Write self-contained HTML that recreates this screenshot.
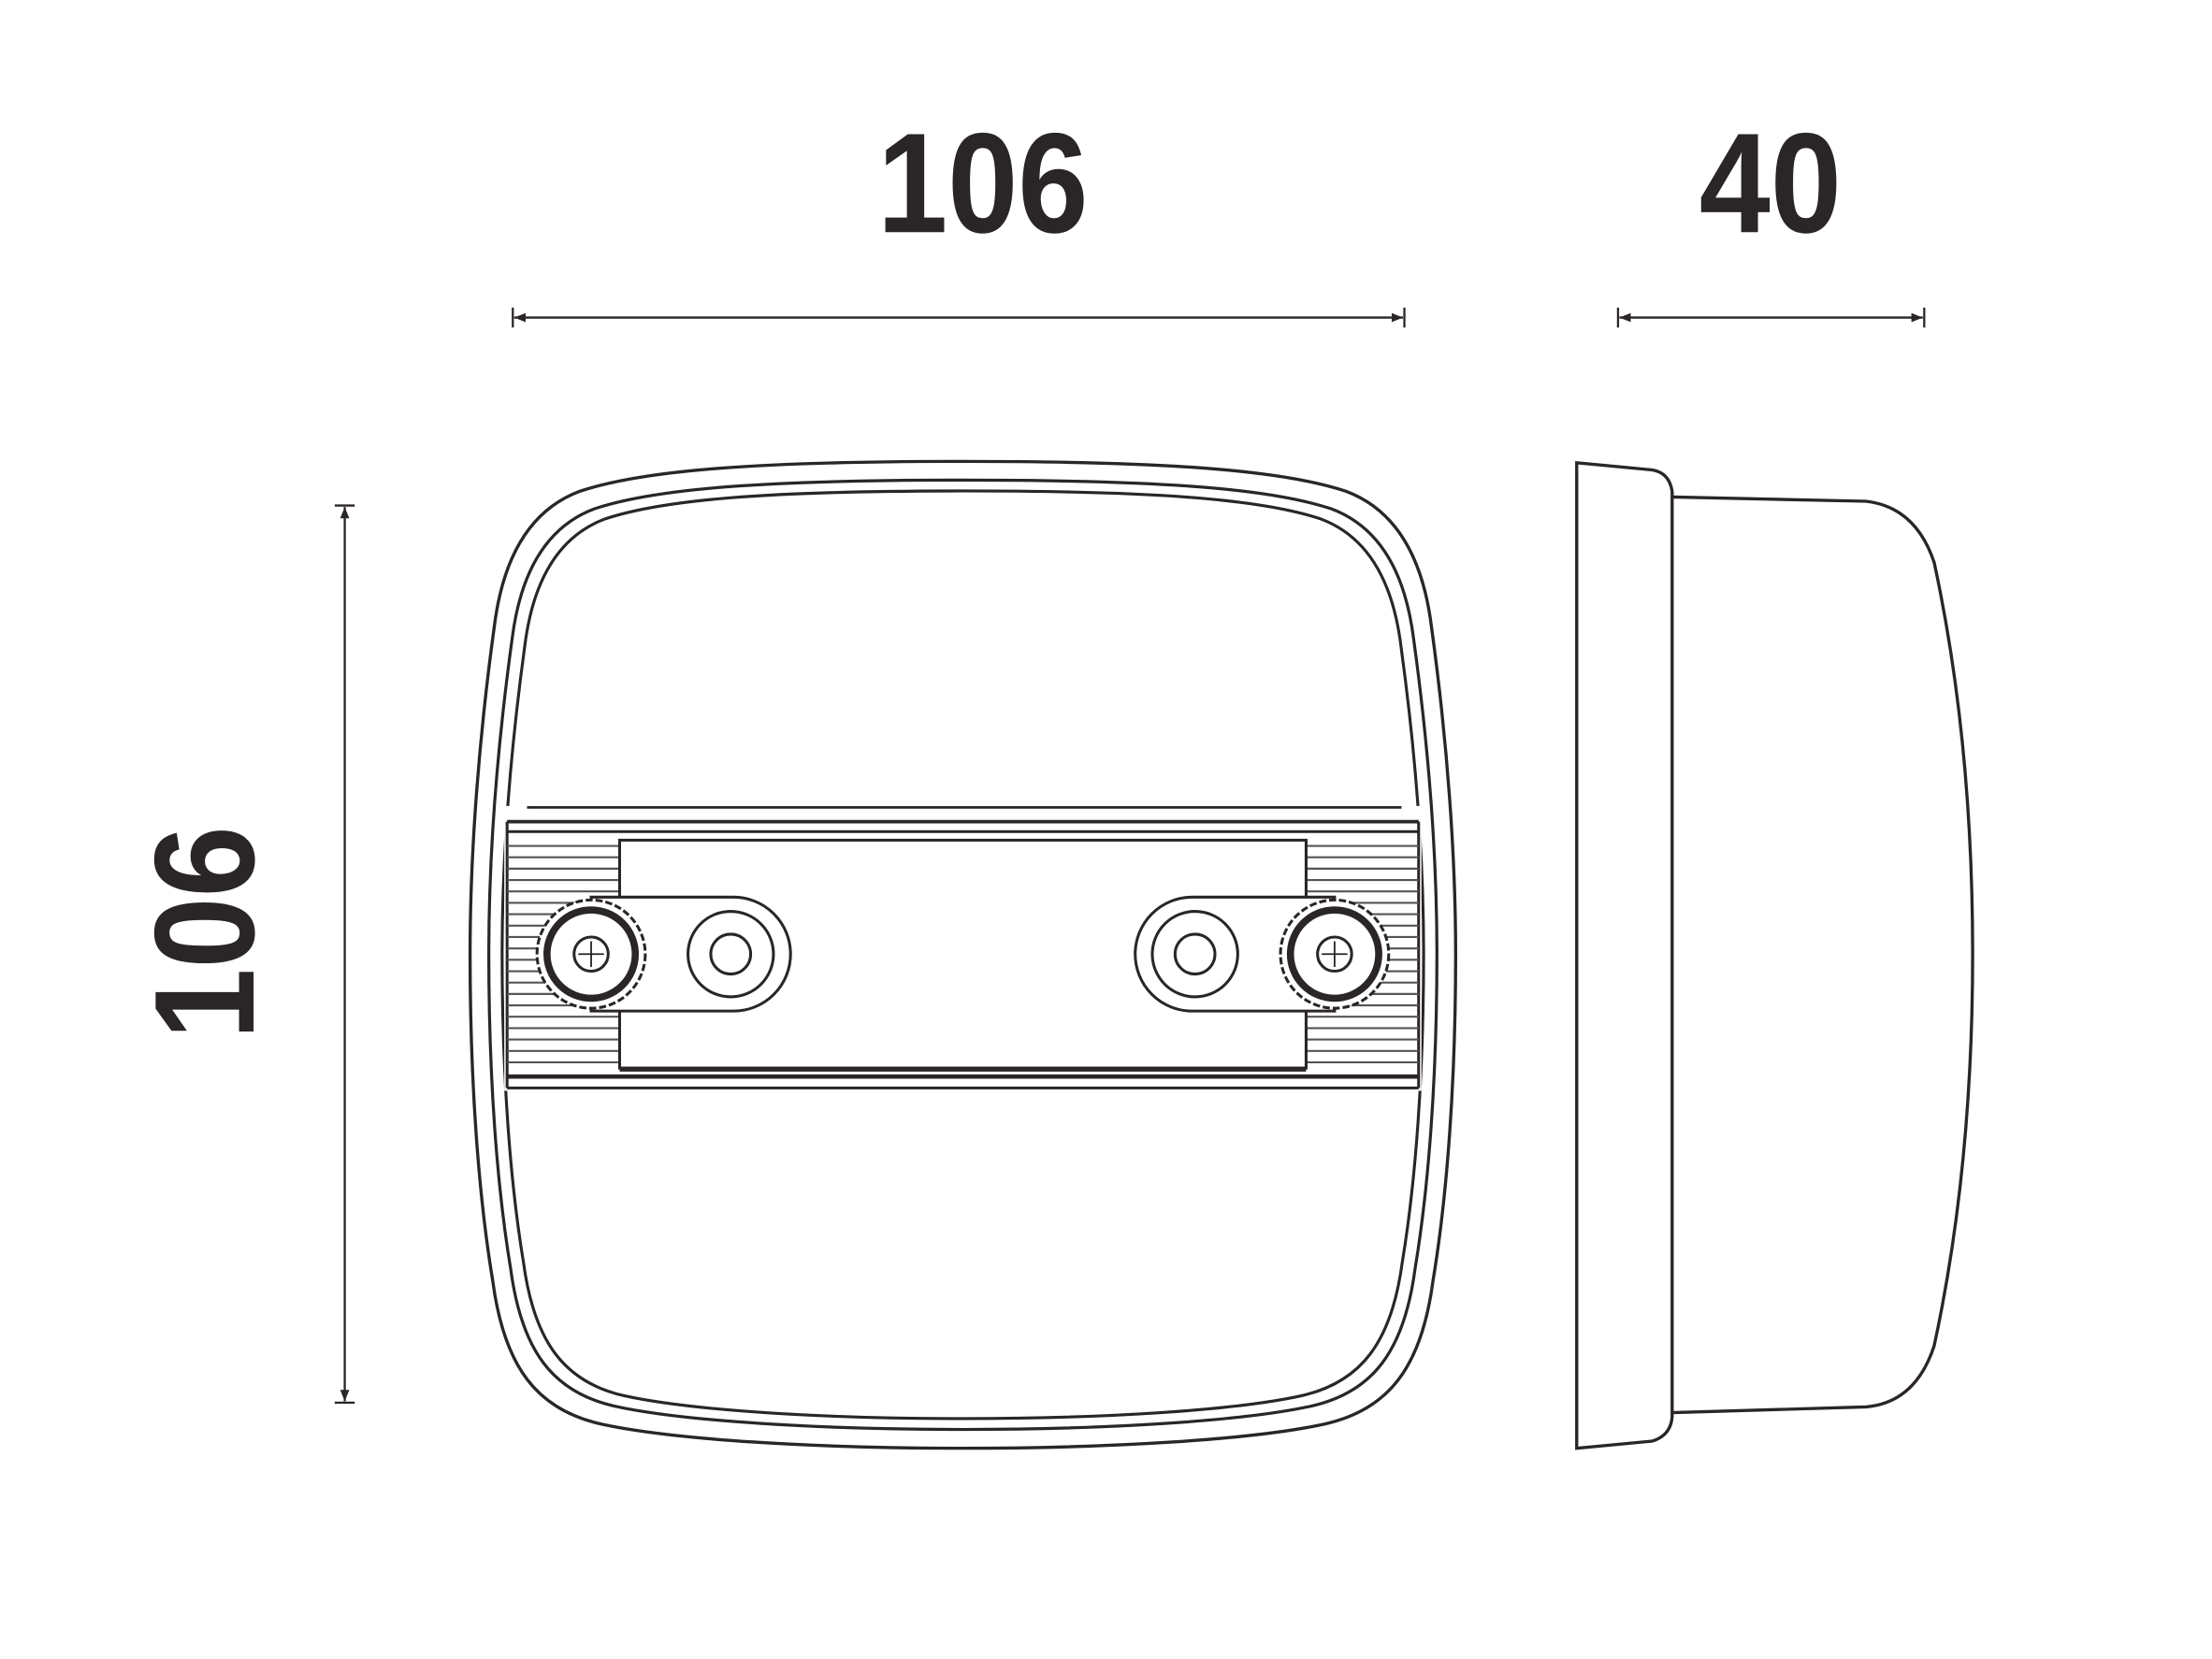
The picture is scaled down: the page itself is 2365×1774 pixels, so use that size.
<!DOCTYPE html>
<html><head><meta charset="utf-8"><style>
html,body{margin:0;padding:0;background:#fff;}
svg{display:block;}
text{font-family:"Liberation Sans",sans-serif;font-weight:bold;fill:#2a2526;}
</style></head><body>
<svg width="2365" height="1774" viewBox="0 0 1553 1165" xmlns="http://www.w3.org/2000/svg">
<defs>
<path id="outl" d="M676 324 C820 324 900 330 945 345 C985 360 1000 400 1005 440 C1016 520 1022 600 1022 670 C1022 760 1016 840 1006 900 C998 960 975 990 930 1000 C880 1011 780 1017 676 1017 C572 1017 472 1011 422 1000 C377 990 354 960 346 900 C336 840 330 760 330 670 C330 600 336 520 347 440 C352 400 367 360 407 345 C452 330 532 324 676 324 Z"/>
<marker id="ar" viewBox="0 0 10 10" refX="10" refY="5" markerWidth="8" markerHeight="8" orient="auto-start-reverse" markerUnits="userSpaceOnUse"><path d="M0 1 L10 5 L0 9 Z" fill="#2a2526"/></marker>
</defs>

<!-- dimension texts -->
<text x="690" y="163" font-size="100" text-anchor="middle" textLength="148" lengthAdjust="spacingAndGlyphs">106</text>
<text x="1243" y="163" font-size="100" text-anchor="middle" textLength="100" lengthAdjust="spacingAndGlyphs">40</text>
<text transform="translate(178 655) rotate(-90)" font-size="100" text-anchor="middle" textLength="150" lengthAdjust="spacingAndGlyphs">106</text>

<g stroke="#2a2526" stroke-width="1.5" fill="none">
<line x1="361" y1="223" x2="985" y2="223" marker-start="url(#ar)" marker-end="url(#ar)"/>
<line x1="360" y1="216" x2="360" y2="230"/><line x1="986" y1="216" x2="986" y2="230"/>
<line x1="1137" y1="223" x2="1350" y2="223" marker-start="url(#ar)" marker-end="url(#ar)"/>
<line x1="1136" y1="216" x2="1136" y2="230"/><line x1="1351" y1="216" x2="1351" y2="230"/>
<line x1="242" y1="356" x2="242" y2="984" marker-start="url(#ar)" marker-end="url(#ar)"/>
<line x1="235" y1="355" x2="249" y2="355"/><line x1="235" y1="985" x2="249" y2="985"/>
</g>

<!-- front outline -->
<g fill="none" stroke="#2a2526" stroke-width="2.2">
<use href="#outl"/>
<use href="#outl" transform="translate(676 670) scale(0.962 0.962) translate(-676 -670)"/>
<use href="#outl" transform="translate(676 670) scale(0.935 0.94) translate(-676 -670)"/>
</g>

<!-- band -->
<rect x="354" y="566" width="644" height="200" fill="#fff"/>
<g stroke="#2a2526" fill="none">
<line x1="370" y1="567" x2="984" y2="567" stroke-width="1.8"/>
<line x1="356" y1="577" x2="996" y2="577" stroke-width="2.5"/>
<line x1="356" y1="584" x2="996" y2="584" stroke-width="2"/>
<line x1="356" y1="756" x2="996" y2="756" stroke-width="3"/>
<line x1="356" y1="764" x2="996" y2="764" stroke-width="2"/>
<line x1="356" y1="577" x2="356" y2="764" stroke-width="2"/>
<line x1="996" y1="577" x2="996" y2="764" stroke-width="2"/>
</g>
<!-- ribs -->
<g stroke="#555" stroke-width="1.4">
<path d="M356 594H435M356 602H435M356 610H435M356 618H435M356 626H435M356 634H435M356 642H435M356 650H435M356 658H435M356 666H435M356 674H435M356 682H435M356 690H435M356 698H435M356 706H435M356 714H435M356 722H435M356 730H435M356 738H435M356 746H435"/>
<path d="M917 594H996M917 602H996M917 610H996M917 618H996M917 626H996M917 634H996M917 642H996M917 650H996M917 658H996M917 666H996M917 674H996M917 682H996M917 690H996M917 698H996M917 706H996M917 714H996M917 722H996M917 730H996M917 738H996M917 746H996"/>
</g>
<!-- plate -->
<rect x="435" y="590" width="482" height="160" fill="#fff" stroke="#2a2526" stroke-width="2"/>
<line x1="435" y1="751" x2="917" y2="751" stroke="#2a2526" stroke-width="3"/>

<!-- slots -->
<g fill="#fff" stroke="#2a2526" stroke-width="2">
<path d="M415 630 H515 A40 40 0 0 1 515 710 H415 Z"/>
<path d="M937 630 H837 A40 40 0 0 0 837 710 H937 Z"/>
</g>
<g fill="none" stroke="#2a2526" stroke-width="2">
<circle cx="513" cy="670" r="30"/><circle cx="513" cy="670" r="14"/>
<circle cx="839" cy="670" r="30"/><circle cx="839" cy="670" r="14"/>
</g>
<!-- screws -->
<g stroke="#2a2526" fill="#fff">
<circle cx="415" cy="670" r="38" stroke-width="2" stroke-dasharray="5 2"/>
<circle cx="415" cy="670" r="31" stroke-width="5"/>
<circle cx="415" cy="670" r="12" stroke-width="2"/>
<path d="M415 661V679M406 670H424" stroke-width="1.2"/>
<circle cx="937" cy="670" r="38" stroke-width="2" stroke-dasharray="5 2"/>
<circle cx="937" cy="670" r="31" stroke-width="5"/>
<circle cx="937" cy="670" r="12" stroke-width="2"/>
<path d="M937 661V679M928 670H946" stroke-width="1.2"/>
</g>

<!-- side view -->
<g fill="none" stroke="#2a2526" stroke-width="2.2">
<path d="M1107 325 L1107 1017 L1160 1012 Q1173 1008 1174 995 L1174 345 Q1172 332 1160 330 Z"/>
<path d="M1174 349 L1310 352 Q1345 356 1358 395 Q1385 520 1385 670 Q1385 820 1358 945 Q1345 985 1310 988 L1174 992"/>
</g>
</svg>
</body></html>
